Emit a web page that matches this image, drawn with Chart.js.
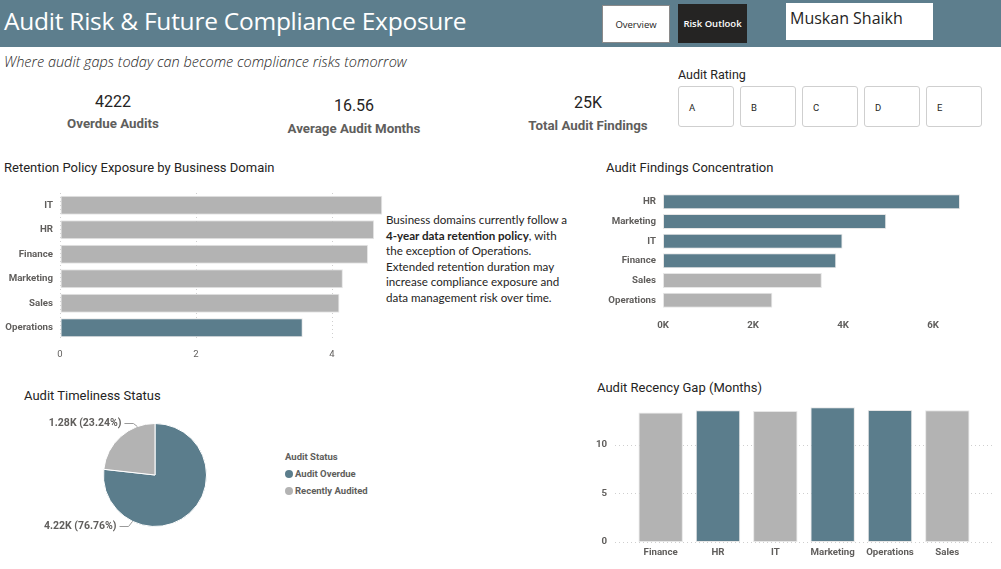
<!DOCTYPE html>
<html><head><meta charset="utf-8">
<script src="https://cdn.jsdelivr.net/npm/chart.js@4.4.1/dist/chart.umd.min.js"></script>
<style>
html,body{margin:0;padding:0;}
body{width:1001px;height:569px;position:relative;background:#fff;overflow:hidden;font-family:'Roboto',sans-serif;color:#252423;}
.abs{position:absolute;white-space:nowrap;}
#header{left:0;top:0;width:1001px;height:47px;background:#5d7e8d;}
#title{left:4px;top:4px;font-family:'Open Sans',sans-serif;font-size:24.5px;color:#fff;letter-spacing:-0.25px;}
.btn{box-sizing:border-box;display:flex;align-items:center;justify-content:center;font-family:'Open Sans',sans-serif;font-size:9.5px;}
#ov{left:602px;top:5px;width:68px;height:38px;background:#fff;border:1px solid #8a8a8a;color:#252423;}
#ro{left:678px;top:4px;width:69px;height:39px;background:#252423;color:#fff;font-weight:600;}
#name{left:786px;top:3px;width:147px;height:37px;background:#fff;font-family:'Open Sans',sans-serif;font-size:16px;padding:4px 0 0 4px;box-sizing:border-box;}
#sub{left:4px;top:52px;font-family:'Open Sans',sans-serif;font-style:italic;font-weight:300;font-size:14.5px;color:#252423;}
.kv{font-size:16px;transform:translateX(-50%);}
.kl{font-size:13.3px;font-weight:bold;color:#605e5c;transform:translateX(-50%);}
.ctitle{font-size:13px;color:#252423;}
#rating{left:678px;top:67px;font-size:12.5px;}
.rbox{box-sizing:border-box;width:56px;height:41px;top:86px;border:1px solid #cfcfcf;border-radius:3px;font-size:9.5px;padding:15px 0 0 10px;}
#note{left:386px;top:212px;font-family:'Lato',sans-serif;font-size:11.6px;line-height:15.6px;color:#252423;}
#legend{left:285px;top:448px;font-size:9.5px;font-weight:bold;color:#605e5c;line-height:17px;}
.dot{display:inline-block;width:8px;height:8px;border-radius:50%;margin-right:2px;vertical-align:-1px;}
canvas{position:absolute;}
</style></head><body>
<div id="header" class="abs"></div>
<div id="title" class="abs">Audit Risk &amp; Future Compliance Exposure</div>
<div id="ov" class="abs btn">Overview</div>
<div id="ro" class="abs btn">Risk Outlook</div>
<div id="name" class="abs">Muskan Shaikh</div>
<div id="sub" class="abs">Where audit gaps today can become compliance risks tomorrow</div>
<div id="kpis"></div>
<div id="rating" class="abs">Audit Rating</div>
<div id="rboxes"></div>
<div class="abs ctitle" style="left:4px;top:160px;">Retention Policy Exposure by Business Domain</div>
<div class="abs ctitle" style="left:606px;top:160px;">Audit Findings Concentration</div>
<div class="abs ctitle" style="left:24px;top:388px;">Audit Timeliness Status</div>
<div class="abs ctitle" style="left:597px;top:380px;">Audit Recency Gap (Months)</div>
<div id="note" class="abs">Business domains currently follow a<br><b>4-year data retention policy</b>, with<br>the exception of Operations.<br>Extended retention duration may<br>increase compliance exposure and<br>data management risk over time.</div>
<div id="legend" class="abs"></div>
<canvas id="c1" width="390" height="176" style="left:0;top:185px;"></canvas>
<canvas id="c2" width="380" height="147" style="left:590px;top:185px;"></canvas>
<canvas id="c3" width="310" height="124" style="left:0;top:413px;"></canvas>
<canvas id="c4" width="411" height="169" style="left:590px;top:400px;"></canvas>
<script>
// ---- data ----
const kpiValues = ['4222', '16.56', '25K'];
const kpiLabels = ['Overdue Audits', 'Average Audit Months', 'Total Audit Findings'];
const ratingOptions = ['A', 'B', 'C', 'D', 'E'];

const retentionDomains = ['IT', 'HR', 'Finance', 'Marketing', 'Sales', 'Operations'];
const retentionYears = [4.74, 4.62, 4.53, 4.16, 4.11, 3.57];
const retentionHighlight = ['Operations'];
const retentionTicks = [0, 2, 4];

const findingsDomains = ['HR', 'Marketing', 'IT', 'Finance', 'Sales', 'Operations'];
const findingsCounts = [6600, 4960, 3990, 3850, 3530, 2430];
const findingsHighlight = ['HR', 'Marketing', 'IT', 'Finance'];
const findingsTicks = [0, 2000, 4000, 6000];

const statusLabels = ['Audit Overdue', 'Recently Audited'];
const statusCounts = [4222, 1278];
const statusTitle = 'Audit Status';

const recencyDomains = ['Finance', 'HR', 'IT', 'Marketing', 'Operations', 'Sales'];
const recencyMonths = [13.34, 13.55, 13.48, 13.86, 13.59, 13.55];
const recencyHighlight = ['HR', 'Marketing', 'Operations'];
const recencyTicks = [0, 5, 10];

// ---- styles ----
const BLUE = '#5b7d8c', GRAY = '#b3b3b3', TICK = '#605e5c';
const FONT = 'Roboto';
const colorFor = (list, hl) => list.map(d => hl.includes(d) ? BLUE : GRAY);
const setTicks = vals => s => { s.ticks = vals.map(v => ({ value: v })); };

// KPI text
const kpiX = [113, 354, 588], kpiVY = [92, 96, 93], kpiLY = [116, 121, 118];
const kpis = document.getElementById('kpis');
kpiValues.forEach((v, i) => {
  kpis.insertAdjacentHTML('beforeend',
    `<div class="abs kv" style="left:${kpiX[i]}px;top:${kpiVY[i]}px;">${v}</div>` +
    `<div class="abs kl" style="left:${kpiX[i]}px;top:${kpiLY[i]}px;">${kpiLabels[i]}</div>`);
});
const rb = document.getElementById('rboxes');
ratingOptions.forEach((r, i) => {
  rb.insertAdjacentHTML('beforeend', `<div class="abs rbox" style="left:${678 + i * 62}px;">${r}</div>`);
});
const lg = document.getElementById('legend');
lg.insertAdjacentHTML('beforeend', `<div>${statusTitle}</div>`);
const statusColors = [BLUE, GRAY];
statusLabels.forEach((l, i) => {
  lg.insertAdjacentHTML('beforeend', `<div><span class="dot" style="background:${statusColors[i]}"></span>${l}</div>`);
});

Chart.defaults.font.family = FONT;
Chart.defaults.color = TICK;
const common = { responsive: false, animation: false, devicePixelRatio: 1,
  plugins: { legend: { display: false }, tooltip: { enabled: false } } };
const fitW = w => s => { s.width = w; s.paddingTop = 0; s.paddingBottom = 0; };
const fitH = h => s => { s.height = h; s.paddingLeft = 0; s.paddingRight = 0; };

// Chart 1: retention
new Chart(document.getElementById('c1'), {
  type: 'bar',
  data: { labels: retentionDomains, datasets: [{ data: retentionYears,
    backgroundColor: colorFor(retentionDomains, retentionHighlight),
    borderColor: '#e6e6e6', borderWidth: 1, borderSkipped: false,
    barPercentage: 0.78, categoryPercentage: 1 }] },
  options: { ...common, indexAxis: 'y',
    layout: { padding: { top: 8, right: 7, bottom: 0, left: 0 } },
    scales: {
      x: { min: 0, max: 4.75, afterFit: fitH(21), afterBuildTicks: setTicks(retentionTicks),
        ticks: { padding: 9, font: { size: 9.5 }, color: TICK },
        grid: { color: '#cfcfcf', drawTicks: false }, border: { display: false, dash: [1, 3] } },
      y: { afterFit: fitW(60),
        ticks: { padding: 7, font: { size: 9.7, weight: 'bold' }, color: TICK },
        grid: { display: false, drawTicks: false }, border: { display: false } }
    } }
});

// Chart 2: findings
new Chart(document.getElementById('c2'), {
  type: 'bar',
  data: { labels: findingsDomains, datasets: [{ data: findingsCounts,
    backgroundColor: colorFor(findingsDomains, findingsHighlight),
    borderColor: '#e6e6e6', borderWidth: 1, borderSkipped: false,
    barPercentage: 0.76, categoryPercentage: 1 }] },
  options: { ...common, indexAxis: 'y',
    layout: { padding: { top: 7, right: 10, bottom: 0, left: 0 } },
    scales: {
      x: { min: 0, max: 6600, afterFit: fitH(22), afterBuildTicks: setTicks(findingsTicks),
        ticks: { padding: 10, font: { size: 9.7, weight: 'bold' }, color: TICK,
          callback: v => (v / 1000) + 'K' },
        grid: { display: false, drawTicks: false }, border: { display: false } },
      y: { afterFit: fitW(73),
        ticks: { padding: 7, font: { size: 9.7, weight: 'bold' }, color: TICK },
        grid: { display: false, drawTicks: false }, border: { display: false } }
    } }
});

// Chart 3: pie with outside labels
const pieLabels = {
  id: 'pieLabels',
  afterDatasetsDraw(chart) {
    const ctx = chart.ctx, meta = chart.getDatasetMeta(0);
    const total = statusCounts.reduce((a, b) => a + b, 0);
    ctx.save();
    ctx.font = 'bold 10.5px ' + FONT;
    ctx.fillStyle = TICK; ctx.strokeStyle = '#9a9a9a'; ctx.lineWidth = 1;
    ctx.textAlign = 'right'; ctx.textBaseline = 'middle';
    meta.data.forEach((arc, i) => {
      const { x, y, outerRadius: r, startAngle, endAngle } = arc.getProps(['x', 'y', 'outerRadius', 'startAngle', 'endAngle'], true);
      const mid = (startAngle + endAngle) / 2;
      const up = Math.sin(mid) < 0;
      const dy = (up ? -0.94 : 0.9) * r;
      const ex = x - Math.sqrt(r * r - dy * dy), ey = y + dy;
      const ly = up ? y - r : y + r;
      ctx.beginPath();
      ctx.moveTo(ex, ey); ctx.lineTo(ex - 4, ly); ctx.lineTo(ex - 13, ly); ctx.stroke();
      const v = statusCounts[i];
      const txt = (v / 1000).toFixed(2) + 'K (' + (v / total * 100).toFixed(2) + '%)';
      ctx.fillText(txt, ex - 16, ly);
    });
    ctx.restore();
  }
};
new Chart(document.getElementById('c3'), {
  type: 'pie',
  data: { labels: statusLabels, datasets: [{ data: statusCounts,
    backgroundColor: statusColors, borderColor: '#ffffff', borderWidth: 1 }] },
  options: { ...common, layout: { padding: { top: 10, bottom: 10 } } },
  plugins: [pieLabels]
});

// Chart 4: recency
const wideGrid = {
  id: 'wideGrid',
  beforeDatasetsDraw(chart) {
    const ctx = chart.ctx, ys = chart.scales.y;
    ctx.save();
    ctx.strokeStyle = '#cfcfcf'; ctx.lineWidth = 1; ctx.setLineDash([1, 3]);
    ys.ticks.forEach(t => {
      const py = Math.round(ys.getPixelForValue(t.value)) + 0.5;
      ctx.beginPath(); ctx.moveTo(25, py); ctx.lineTo(403, py); ctx.stroke();
    });
    ctx.restore();
  }
};
new Chart(document.getElementById('c4'), {
  type: 'bar',
  data: { labels: recencyDomains, datasets: [{ data: recencyMonths,
    backgroundColor: colorFor(recencyDomains, recencyHighlight),
    borderColor: '#e6e6e6', borderWidth: 1, borderSkipped: false,
    barPercentage: 0.775, categoryPercentage: 1 }] },
  options: { ...common,
    layout: { padding: { top: 6, right: 25, bottom: 0, left: 0 } },
    scales: {
      x: { afterFit: fitH(27),
        ticks: { padding: 5, font: { size: 9.7, weight: 'bold' }, color: TICK },
        grid: { display: false, drawTicks: false }, border: { display: false } },
      y: { min: 0, max: 14, afterFit: fitW(42), afterBuildTicks: setTicks(recencyTicks),
        ticks: { padding: 25, font: { size: 9.7, weight: 'bold' }, color: TICK },
        grid: { display: false, drawTicks: false }, border: { display: false } }
    } },
  plugins: [wideGrid]
});
</script>
</body></html>
